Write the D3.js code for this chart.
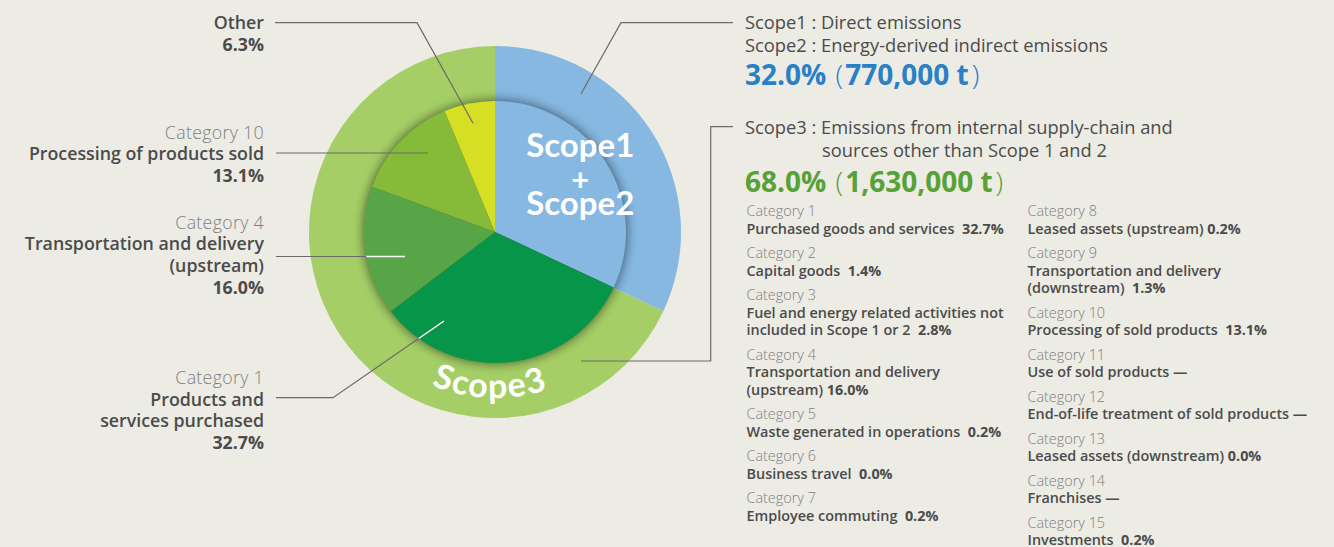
<!DOCTYPE html>
<html>
<head>
<meta charset="utf-8">
<script src="https://cdn.jsdelivr.net/npm/d3@7"></script>
<style>
    html, body { margin: 0; padding: 0; background: #ecebe4; }
    svg { display: block; font-family: "Open Sans", "Noto Sans", sans-serif; }
</style>
</head>
<body>
<div id="chart"></div>
<script>

// Scope totals (outer ring)
var scopeNames = ['Scope1+2', 'Scope3'];
var scopeShares = [32.0, 68.0];
var scopeTonnes = ['770,000 t', '1,630,000 t'];

// Inner pie: Scope1+2 and the main Scope3 categories
var breakdownNames = ['Scope1+2', 'Category 1', 'Category 4', 'Category 10', 'Other'];
var breakdownShares = [32.0, 32.7, 16.0, 13.1, 6.3];

// Scope3 category list (text lines as printed, share appended to last line)
var categoryNames = [
    ['Purchased goods and services'],
    ['Capital goods'],
    ['Fuel and energy related activities not', 'included in Scope 1 or 2'],
    ['Transportation and delivery', '(upstream)'],
    ['Waste generated in operations'],
    ['Business travel'],
    ['Employee commuting'],
    ['Leased assets (upstream)'],
    ['Transportation and delivery', '(downstream)'],
    ['Processing of sold products'],
    ['Use of sold products'],
    ['End-of-life treatment of sold products'],
    ['Leased assets (downstream)'],
    ['Franchises'],
    ['Investments']
];
var categoryShares = ['32.7%', '1.4%', '2.8%', '16.0%', '0.2%', '0.0%', '0.2%',
    '0.2%', '1.3%', '13.1%', '\u2014', '\u2014', '0.0%', '\u2014', '0.2%'];
// spaces printed between name and share
var categoryGaps = [2, 2, 2, 1, 2, 2, 2, 1, 2, 2, 1, 1, 1, 1, 2];

// Callout labels on the left of the pie
var calloutHeads = ['', 'Category 10', 'Category 4', 'Category 1'];
var calloutLines = [
    ['Other'],
    ['Processing of products sold'],
    ['Transportation and delivery', '(upstream)'],
    ['Products and', 'services purchased']
];
var calloutShares = ['6.3%', '13.1%', '16.0%', '32.7%'];
var calloutSlices = ['Other', 'Category 10', 'Category 4', 'Category 1'];

var width = 1334;
var height = 547;
var cx = 495;
var cy = 232;
var outerR = 186;
var innerR = 131;

var ringColors = d3.scaleOrdinal().domain(scopeNames).range(['#86b8e2', '#a5cf66']);
var sliceColors = d3.scaleOrdinal().domain(breakdownNames)
    .range(['#86b8e2', '#07954a', '#58a547', '#86bb3a', '#d6df23']);

var textDark = '#4b4b4b';
var textLight = '#808080';
var lineColor = '#6a6a6a';

/**
 * Point at the given angle (degrees, clockwise from 12 o'clock) and radius.
 */
function polar(deg, r) {
    var a = deg * Math.PI / 180;
    return [cx + r * Math.sin(a), cy - r * Math.cos(a)];
}

/**
 * Soft dark halo used around the inner pie.
 */
function createShadowFilter(svg) {
    var filter = svg.append('defs').append('filter')
        .attr('id', 'halo')
        .attr('x', -0.3).attr('y', -0.3)
        .attr('width', 1.6).attr('height', 1.6);

    filter.append('feGaussianBlur')
        .attr('in', 'SourceAlpha')
        .attr('stdDeviation', 6)
        .attr('result', 'blur');

    filter.append('feColorMatrix')
        .attr('type', 'matrix')
        .attr('values', '0 0 0 0 0  0 0 0 0 0  0 0 0 0 0  0 0 0 0.6 0');
}

var svg = d3.select('#chart').append('svg')
    .attr('width', width)
    .attr('height', height);

createShadowFilter(svg);

svg.select('defs').append('clipPath')
    .attr('id', 'innerClip')
    .append('circle')
    .attr('cx', cx).attr('cy', cy).attr('r', innerR);

var pie = d3.pie().sort(null).value(function (d) { return d; });

// outer ring
var ring = svg.append('g').attr('transform', 'translate(' + cx + ',' + cy + ')');
ring.selectAll('path')
    .data(pie(scopeShares))
    .enter().append('path')
    .attr('d', d3.arc().innerRadius(0).outerRadius(outerR))
    .attr('fill', function (d, i) { return ringColors(scopeNames[i]); });

// halo under the inner pie
ring.append('circle')
    .attr('r', innerR)
    .attr('fill', '#000')
    .attr('filter', 'url(#halo)');

// inner pie
var innerArcs = pie(breakdownShares);
ring.selectAll('path.slice')
    .data(innerArcs)
    .enter().append('path')
    .attr('class', 'slice')
    .attr('d', d3.arc().innerRadius(0).outerRadius(innerR))
    .attr('fill', function (d, i) { return sliceColors(breakdownNames[i]); });

// Scope1 + Scope2 label inside the blue slice
var s12 = polar(61.5, 97);
var s12G = svg.append('g')
    .attr('text-anchor', 'middle')
    .attr('fill', '#fff')
    .attr('font-family', 'Lato, sans-serif')
    .attr('font-weight', 700);
s12G.append('text').attr('x', s12[0]).attr('y', s12[1] - 29).attr('font-size', 33).text('Scope1');
s12G.append('text').attr('x', s12[0]).attr('y', s12[1] + 5).attr('font-size', 31).text('+');
s12G.append('text').attr('x', s12[0]).attr('y', s12[1] + 29).attr('font-size', 33).text('Scope2');

// Scope3 label following the ring
var rt = 166;
svg.select('defs').append('path')
    .attr('id', 'scope3Arc')
    .attr('d', 'M' + (cx - rt) + ',' + cy + ' A' + rt + ',' + rt + ' 0 0 0 ' + (cx + rt) + ',' + cy);
svg.append('text')
    .attr('fill', '#fff')
    .attr('font-family', 'Lato, sans-serif')
    .attr('font-weight', 700)
    .attr('font-size', 34)
    .attr('letter-spacing', 1.5)
    .append('textPath')
    .attr('href', '#scope3Arc')
    .attr('startOffset', '49%')
    .attr('text-anchor', 'middle')
    .text('Scope3');

// leader lines
var leaders = [
    {from: [275, 22.7], elbow: [417, 22.7], angle: 348.6, r: 111, white: false},
    {from: [276, 153], elbow: null, angle: 319.7, r: 103.6, white: false},
    {from: [276, 256.5], elbow: null, angle: 254.8, r: 93.3, white: true},
    {from: [276, 397.7], elbow: [333, 397.7], angle: 209.8, r: 102.6, white: true},
    {from: [733, 22.7], elbow: [621, 22.7], angle: 31.9, r: 162.6, white: false},
    {from: [733, 126.7], elbow: [710.7, 126.7], angle: 146.3, r: 155, white: false, corner: [710.7, 361]}
];

function leaderPath(d) {
    var end = polar(d.angle, d.r);
    var pts = [d.from];
    if (d.elbow) pts.push(d.elbow);
    if (d.corner) pts.push(d.corner);
    if (!d.elbow && !d.corner) end = [end[0], d.from[1]];
    if (d.corner) end = [end[0], d.corner[1]];
    pts.push(end);
    return d3.line()(pts);
}

var leaderG = svg.append('g').attr('fill', 'none');
leaderG.selectAll('path.gray')
    .data(leaders)
    .enter().append('path')
    .attr('class', 'gray')
    .attr('d', leaderPath)
    .attr('stroke', lineColor)
    .attr('stroke-width', 1.2);
leaderG.selectAll('path.white')
    .data(leaders.filter(function (d) { return d.white; }))
    .enter().append('path')
    .attr('class', 'white')
    .attr('d', leaderPath)
    .attr('clip-path', 'url(#innerClip)')
    .attr('stroke', '#fff')
    .attr('stroke-width', 1.4);

// left callouts
var calloutTop = [29, 138.5, 228.5, 384];
var calloutStep = 21.7;
calloutSlices.forEach(function (name, i) {
    var t = svg.append('text')
        .attr('text-anchor', 'end')
        .attr('font-size', 17.8);
    var y = calloutTop[i];
    if (calloutHeads[i]) {
        t.append('tspan').attr('x', 264).attr('y', y)
            .attr('font-weight', 300).attr('fill', textLight)
            .attr('letter-spacing', 0.3)
            .text(calloutHeads[i]);
        y += calloutStep;
    }
    calloutLines[i].forEach(function (line) {
        t.append('tspan').attr('x', 264).attr('y', y)
            .attr('font-weight', 600).attr('fill', textDark)
            .text(line);
        y += calloutStep;
    });
    t.append('tspan').attr('x', 264).attr('y', y)
        .attr('font-weight', 700).attr('fill', textDark)
        .text(calloutShares[i]);
});

// scope descriptions on the right
var desc = svg.append('g').attr('font-size', 18.3).attr('fill', textDark);
desc.append('text').attr('x', 745).attr('y', 28.5).text('Scope1 : Direct emissions');
desc.append('text').attr('x', 745).attr('y', 51.5).text('Scope2 : Energy-derived indirect emissions');
desc.append('text').attr('x', 745).attr('y', 133.5).text('Scope3 : Emissions from internal supply-chain and');
desc.append('text').attr('x', 822).attr('y', 156.5).text('sources other than Scope 1 and 2');

var totalColors = ['#2a80c6', '#56a236'];
var totalY = [85, 191.5];
scopeShares.forEach(function (v, i) {
    var t = svg.append('text')
        .attr('x', 745).attr('y', totalY[i])
        .attr('font-size', 28)
        .attr('font-weight', 700)
        .attr('fill', totalColors[i]);
    t.append('tspan').text(d3.format('.1f')(v) + '% ');
    t.append('tspan').attr('font-weight', 300).attr('dx', 2).text('(');
    t.append('tspan').attr('dx', 2).text(scopeTonnes[i]);
    t.append('tspan').attr('font-weight', 300).attr('dx', 3).text(')');
});

// Scope3 category list, two columns
var listCols = [746.5, 1027.5];
var listTop = 216;
var lineStep = 17.5;
var blockGap = 24.5;
var list = svg.append('g').attr('font-size', 14.4);
var y = listTop;
categoryNames.forEach(function (lines, i) {
    if (i === 7) y = listTop;
    var x = listCols[i < 7 ? 0 : 1];
    list.append('text').attr('x', x).attr('y', y)
        .attr('font-weight', 300).attr('fill', textLight)
        .text('Category ' + (i + 1));
    lines.forEach(function (line, j) {
        y += lineStep;
        var t = list.append('text').attr('x', x).attr('y', y)
            .attr('font-weight', 600).attr('fill', textDark)
            .text(line);
        if (j === lines.length - 1) {
            var gap = categoryGaps[i] === 2 ? '\u00a0 ' : ' ';
            t.append('tspan').attr('font-weight', 700).text(gap + categoryShares[i]);
        }
    });
    y += blockGap;
});

</script>
</body>
</html>
